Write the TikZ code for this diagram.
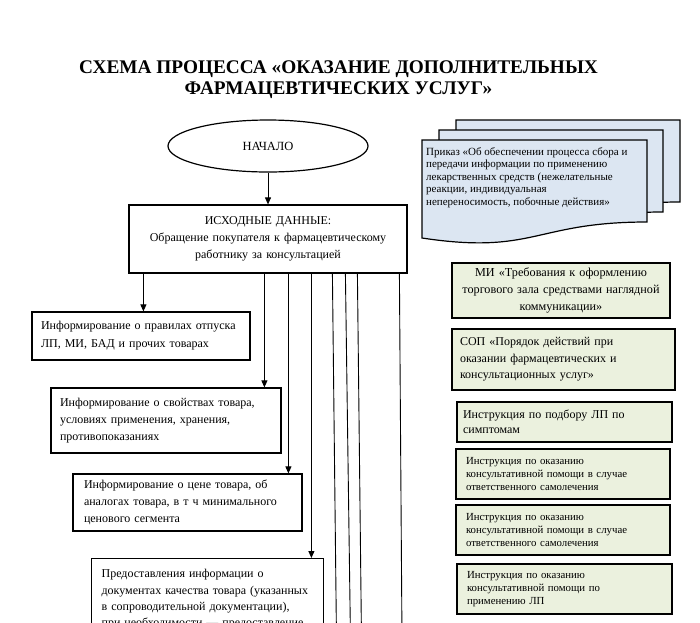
\documentclass[tikz,border=0pt]{standalone}
\usepackage{fontspec}
\setmainfont{Liberation Serif}
\usetikzlibrary{shapes,arrows,arrows.meta}
\definecolor{docblue}{HTML}{DCE6F2}
\definecolor{mdgreen}{HTML}{EBF1DE}

\begin{document}
\begin{tikzpicture}[x=1pt,y=-1pt,>={Triangle[length=7pt,width=6pt]}]
    \tikzstyle{proc}=[rectangle,draw,line width=1.2pt,fill=white,inner xsep=9pt,align=left,font=\fontsize{12}{17}\selectfont]
    \tikzstyle{reg}=[rectangle,draw,line width=1.2pt,fill=mdgreen,align=left]
    \tikzstyle{page}=[draw,line width=1.2pt,fill=docblue]
    \tikzstyle{link}=[line width=0.9pt]

    \useasboundingbox (0,0) rectangle (700,622);
    \clip (0,0) rectangle (700,622);

    \node(title) at (338.5,80) [align=center,font=\bfseries\fontsize{19.3}{21}\selectfont] {СХЕМА ПРОЦЕССА «ОКАЗАНИЕ ДОПОЛНИТЕЛЬНЫХ\\ФАРМАЦЕВТИЧЕСКИХ УСЛУГ»};

    \node(start) at (268,146) [ellipse,draw,line width=1.2pt,minimum width=200pt,minimum height=52pt,font=\fontsize{12.5}{17}\selectfont] {НАЧАЛО};
    \node(src) at (268,239) [proc,align=center,text width=260pt,minimum height=68pt] {ИСХОДНЫЕ ДАННЫЕ:\\Обращение покупателя к фармацевтическому\\работнику за консультацией};

    \node(inf1) at (141,336) [proc,text width=200pt,minimum height=48pt,font=\fontsize{12}{18}\selectfont] {Информирование о правилах отпуска\\ЛП, МИ, БАД и прочих товарах};
    \node(inf2) at (166,420.5) [proc,text width=212pt,minimum height=65pt] {Информирование о свойствах товара,\\условиях применения, хранения,\\противопоказаниях};
    \node(inf3) at (187.5,502.5) [proc,text width=211pt,minimum height=57pt,inner xsep=11pt,text width=207pt] {Информирование о цене товара, об\\аналогах товара, в т ч минимального\\ценового сегмента};
    \node(inf4) at (91,558) [proc,anchor=north west,inner xsep=10pt,text width=212pt,inner ysep=11pt,font=\fontsize{12}{16.3}\selectfont] {Предоставления информации о\\документах качества товара (указанных\\в сопроводительной документации),\\при необходимости — предоставление};

    \draw [page] (456,120) -- (680,120) -- (680,202) .. controls (568,202) and (568,235) .. (456,218) -- cycle;
    \draw [page] (439,130) -- (663,130) -- (663,212) .. controls (551,212) and (551,245) .. (439,228) -- cycle;
    \draw [page] (422,140) -- (647,140) -- (647,222) .. controls (534.5,222) and (534.5,255) .. (422,238) -- cycle;
    \node(order) at (426,147) [anchor=north west,inner sep=0pt,align=left,font=\fontsize{11}{12.5}\selectfont] {Приказ «Об обеспечении процесса сбора и\\передачи информации по применению\\лекарственных средств (нежелательные\\реакции, индивидуальная\\непереносимость, побочные действия»};

    \node(mi)   at (561,290.5) [reg,align=center,inner xsep=6pt,text width=206pt,minimum height=55pt,font=\fontsize{12.2}{17}\selectfont] {МИ «Требования к оформлению\\торгового зала средствами наглядной\\коммуникации»};
    \node(sop)  at (563.5,359.5) [reg,inner xsep=8pt,text width=207pt,minimum height=61pt,font=\fontsize{12}{16.5}\selectfont] {СОП «Порядок действий при\\оказании фармацевтических и\\консультационных услуг»};
    \node(ins1) at (564.5,422) [reg,inner xsep=6pt,text width=203pt,minimum height=40pt,font=\fontsize{12}{15}\selectfont] {Инструкция по подбору ЛП по\\симптомам};
    \node(ins2) at (563,474) [reg,inner xsep=10pt,text width=194pt,minimum height=50pt,font=\fontsize{10.8}{13}\selectfont] {Инструкция по оказанию\\консультативной помощи в случае\\ответственного самолечения};
    \node(ins3) at (563,530) [reg,inner xsep=10pt,text width=194pt,minimum height=50pt,font=\fontsize{10.8}{13}\selectfont] {Инструкция по оказанию\\консультативной помощи в случае\\ответственного самолечения};
    \node(ins4) at (564.5,589) [reg,inner xsep=10pt,text width=195pt,minimum height=50pt,font=\fontsize{10.8}{13}\selectfont] {Инструкция по оказанию\\консультативной помощи по\\применению ЛП};

    \foreach \n/\dx in {1/15,2/136,3/160,4/183,5/204,6/217,7/229,8/271}
        \coordinate (a\n) at ([xshift=\dx pt]src.south west);
    \foreach \n/\ex in {5/336.5,6/350.5,7/361.5,8/402}
        \coordinate (e\n) at (\ex,640);

    \draw [link,->] (start) -- (src);
    \foreach \n/\b in {1/inf1,2/inf2,3/inf3,4/inf4}
        \draw [link,->] (a\n) -- (a\n |- \b.north);
    \foreach \n in {5,...,8}
        \draw [link] (a\n) -- (e\n);

\end{tikzpicture}
\end{document}
